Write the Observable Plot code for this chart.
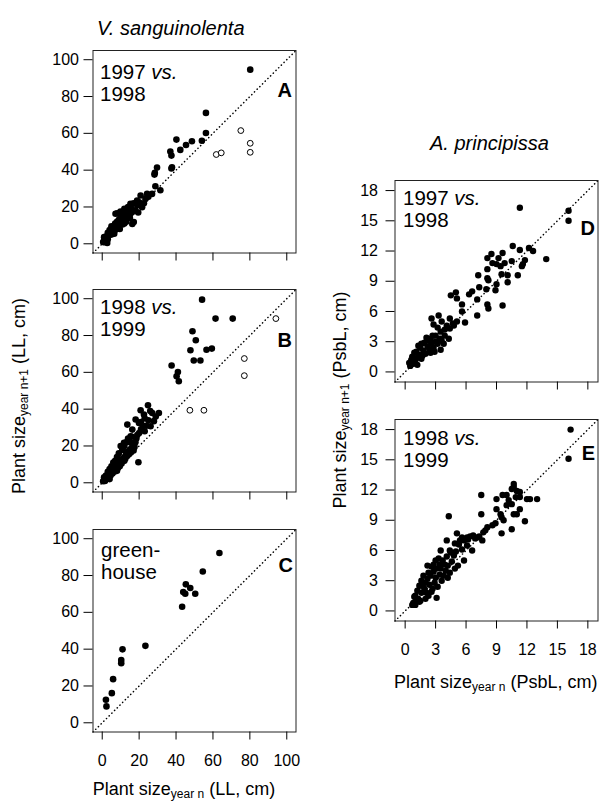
<!DOCTYPE html>
<html><head><meta charset="utf-8">
<script src="https://cdn.jsdelivr.net/npm/d3@7"></script>
<script src="https://cdn.jsdelivr.net/npm/@observablehq/plot@0.6"></script>
<style>
body{margin:0;background:#fff;font-family:"Liberation Sans",Arial,Helvetica,sans-serif;color:#000}
#root{position:relative;width:600px;height:805px;overflow:hidden;background:#fff}
.abs{position:absolute;white-space:nowrap}
.ann{font-size:20.5px;line-height:22px}
.let{font-size:20px;font-weight:bold;line-height:24px;text-align:right;width:40px}
.ttl{font-size:18px;line-height:20px;text-align:center}
.ttl sub{font-size:12px;vertical-align:-3px;line-height:0}
.sp{font-size:20px;font-style:italic;line-height:24px}
</style></head>
<body><div id="root"></div>
<script>
// ---- scales / ticks ----
const llDomain = [-5, 105];
const llTicks = [0, 20, 40, 60, 80, 100];
const psDomain = [-1, 19];
const psTicks = [0, 3, 6, 9, 12, 15, 18];

// ---- V. sanguinolenta, 1997 vs 1998 (A) ----
const aFilled = [[80.2,94.6],[56.2,71.1],[56.2,60.2],[54.0,56.0],[48.6,55.7],[45.4,53.7],[42.3,51.0],[40.2,56.6],[36.9,50.1],[37.5,47.9],[37.8,41.6],[37.5,40.9],[29.7,41.4],[28.5,38.5],[28.3,37.6],[28.8,31.3],[31.5,29.1],[27.0,27.1],[24.3,27.1],[23.4,24.4],[21.6,19.9],[25.0,25.5],[20.8,26.2],[18.9,23.5],[15.3,21.7],[17.0,22.0],[19.0,21.0],[20.0,22.5],[16.0,19.0],[14.0,17.5],[13.0,16.0],[12.0,15.0],[11.0,14.0],[9.9,17.5],[8.1,16.6],[7.2,16.3],[17.1,11.8],[16.3,10.8],[15.0,14.0],[18.0,18.0],[13.0,18.0],[11.0,12.0],[10.0,13.0],[9.0,11.0],[8.0,10.0],[7.0,9.0],[6.0,8.0],[5.0,7.0],[4.5,5.5],[4.0,6.0],[3.0,4.0],[3.5,5.0],[2.5,3.0],[2.0,2.5],[1.5,2.0],[1.0,1.5],[0.5,1.0],[1.0,0.8],[2.0,1.5],[3.0,2.5],[5.0,5.0],[6.0,6.0],[7.0,7.5],[8.0,8.5],[9.0,9.5],[10.0,11.0],[11.0,10.5],[12.0,11.0],[13.0,13.0],[14.0,14.5],[15.0,16.0],[16.0,17.0],[12.0,13.5],[6.0,9.0],[5.0,9.5],[7.0,11.0],[8.0,12.0],[9.0,13.0],[10.0,15.0],[4.0,7.5],[3.0,6.0],[2.0,4.0],[1.5,3.0],[1.0,3.6],[14.0,20.0],[12.0,19.0],[11.0,16.5],[13.0,12.0],[2.7,0.5],[6.5,5.5],[9.5,8.0],[22.6,22.0],[19.5,17.0]];
const aOpen = [[75.1,61.5],[80.2,54.6],[80.2,49.7],[61.8,48.5],[64.5,49.4]];

// ---- V. sanguinolenta, 1998 vs 1999 (B) ----
const bFilled = [[54.1,99.5],[61.4,89.2],[70.7,89.2],[48.9,82.3],[50.7,77.4],[47.8,72.0],[56.5,72.3],[59.4,72.9],[49.6,66.4],[53.2,66.4],[37.6,63.7],[41.0,60.2],[40.3,57.9],[41.5,55.2],
[20.8,39.4],[24.8,42.1],[22.6,37.1],[27.1,37.9],[30.7,37.9],[28.0,33.5],[26.2,30.7],[19.9,32.5],[18.1,34.4],[13.6,31.6],[16.3,28.9],[15.4,25.3],[11.8,21.7],[17.2,21.7],[10.9,18.1],[19.6,11.2],[23.0,35.0],[25.0,34.0],[29.0,36.0],[26.0,39.0],[21.0,33.0],[24.0,31.0],
[0.5,0.8],[1,1.5],[1.5,1],[2,2.5],[2.5,2],[3,3.5],[3.5,3],[4,5],[4.5,4],[5,6],[5.5,5],[6,7.5],[6.5,6],[7,8],[7.5,7],[8,9.5],[8.5,8],[9,10.5],[9.5,9],[10,12],[10.5,10.5],[11,13],[11.5,12],[12,14],[12.5,13],[13,16],[13.5,14.5],[14,17],[14.5,15.5],[15,18],[15.5,16.5],[16,19],[16.5,18],[17,21],[17.5,19.5],[18,22],[18.5,24],[19,26],[8,14],[9,16],[7,12],[6,11],[5,9],[4,7.5],[3,6],[2,4],[1,3],[11,18],[12,20],[13,22],[14,24],[10,20],[20,27],[21,29],[22,31],[23,28],[16,25],[15,22],[4,2],[8,6.5],[12,12],[17,17.5]];
const bOpen = [[94.1,89.2],[77.0,67.5],[77.0,58.2],[47.5,39.4],[55.1,39.4]];

// ---- V. sanguinolenta, greenhouse (C) ----
const cFilled = [[63.5,92.2],[54.5,82.2],[45.3,75.2],[47.7,73.2],[43.9,71.0],[45.0,70.1],[50.4,70.1],[43.3,63.0],[23.4,41.8],[11.0,39.9],[10.3,34.1],[10.3,32.4],[5.9,23.7],[5.2,16.1],[2.0,12.5],[2.3,8.9]];

// ---- A. principissa, 1997 vs 1998 (D) ----
const dFilled = [[11.3,16.3],[16.1,16.0],[16.1,15.0],[10.6,12.5],[11.3,12.1],[12.2,12.3],[12.6,12.0],[13.9,11.2],[11.8,11.1],[11.6,10.7],[11.5,10.5],[11.1,9.6],[10.1,9.6],[10.1,8.9],[9.6,11.8],[9.2,11.3],[9.0,10.7],[9.4,10.5],[9.5,9.7],[8.6,10.8],[8.1,11.3],[8.1,10.2],[7.2,9.6],[8.1,9.3],[8.2,9.1],[9.0,8.7],[8.9,8.1],[7.3,8.4],[8.0,8.2],[6.6,8.0],[6.3,7.7],[7.1,7.2],[8.1,6.7],[8.2,6.3],[9.6,6.6],[7.1,5.6],[5.9,4.9],[4.5,7.6],[5.0,7.9],[5.1,7.3],[5.6,6.7],[5.6,6.0],[4.4,5.3],[5.1,5.0],[4.8,4.6],[3.5,2.2],[8.5,11.7],[10.5,11.0],[9.8,10.8],
[2.6,5.3],[3.3,5.6],[3.6,5.0],[4.1,4.6],[3.9,4.2],[3.5,4.0],[4.4,4.3],[4.7,4.8],[3.9,3.6],[4.3,3.3],[3.2,4.4],[2.8,4.7],[3.0,3.6],[2.5,3.3],
[0.4,0.9],[0.6,1.2],[0.8,0.8],[1.0,1.1],[0.7,1.5],[1.2,1.4],[1.4,1.7],[1.1,2.0],[1.6,1.3],[1.8,2.1],[1.5,2.4],[2.0,1.8],[2.2,2.5],[1.9,2.9],[2.4,2.2],[2.6,2.8],[2.3,3.1],[2.8,2.4],[3.0,3.0],[2.1,3.4],[2.7,3.6],[3.2,2.8],[1.3,2.6],[0.9,1.9],[1.7,1.6],[2.5,1.9],[3.4,3.3],[1.2,0.7],[0.5,0.6],[1.6,2.8],[2.9,2.0],[3.6,3.1],[3.8,2.8]];

// ---- A. principissa, 1998 vs 1999 (E) ----
const eFilled = [[16.3,18.0],[16.1,15.1],[10.7,12.6],[10.7,12.3],[10.9,11.3],[11.0,11.9],[10.5,12.1],[11.3,11.8],[11.3,11.3],[12.0,11.1],[12.3,11.1],[13.0,11.1],[10.0,11.5],[9.6,11.5],[9.0,11.1],[9.0,10.1],[7.5,11.5],[7.5,9.6],[4.3,9.4],[9.4,9.6],[9.5,9.3],[9.7,9.0],[10.5,10.6],[10.7,9.6],[11.0,9.6],[11.3,10.1],[11.8,8.9],[10.5,8.1],[9.5,7.7],[8.9,8.7],[8.6,8.5],[8.1,8.3],[7.9,8.0],[7.7,7.8],[7.6,7.0],[7.1,7.3],[6.7,7.5],[6.4,7.4],[6.1,7.3],[5.6,7.3],[5.4,7.0],[4.9,6.7],[6.6,6.0],[5.8,7.0],[6.1,6.5],[5.1,7.7],[4.1,7.0],[3.5,6.0],[5.8,5.0],[2.3,1.5],[3.1,1.3],[10.2,11.0],[10.0,10.5],[6.9,7.2],[7.3,7.4],[6.2,7.1],[5.3,6.6],[5.6,6.1],
[4.5,5.8],[4.8,5.5],[5.0,5.9],[4.6,4.9],[4.2,4.5],[4.9,4.2],[5.2,4.5],[4.0,4.0],[4.4,3.8],[3.7,5.0],[3.4,4.6],[3.1,4.2],[3.4,3.6],[3.0,3.3],[2.8,3.9],[2.6,4.4],[2.2,4.5],[3.0,5.0],[3.3,5.2],[2.5,3.5],[2.2,3.2],[2.0,2.8],[2.4,2.6],[1.8,3.5],[1.6,3.0],[1.4,2.5],[1.9,2.2],[1.6,1.8],[1.2,2.0],[1.0,1.5],[1.3,1.2],[0.8,0.8],[1.0,0.6],[0.7,0.6],[1.5,1.0],[2.0,1.2],[2.7,2.2],[2.9,2.8],[3.2,2.4],[3.6,3.0],[3.8,3.5],[4.2,3.3],[1.7,2.5],[2.1,1.8],[2.6,1.9],[1.1,1.1],[0.9,1.4],[1.4,0.9],[2.3,3.8],[2.8,4.6],[3.5,4.2],[3.9,4.6],[4.1,5.4],[4.4,6.0]];

const FONT = '"Liberation Sans", Arial, Helvetica, sans-serif';
const root = document.getElementById("root");

function panel({filled, open = [], domain, ticks, left, top, width, height, ml, mr, mt, mb, showX, r, yPad}) {
  const diag = domain.map(v => ({v}));
  const svg = Plot.plot({
    width, height,
    marginLeft: ml, marginRight: mr, marginTop: mt, marginBottom: mb,
    x: {domain, label: null},
    y: {domain, label: null},
    style: {fontFamily: FONT, fontSize: "16px", color: "#000", background: "transparent", overflow: "visible"},
    marks: [
      Plot.line(diag, {x: "v", y: "v", stroke: "#000", strokeWidth: 1.5, strokeDasharray: "0.2 3.6", strokeLinecap: "round"}),
      Plot.dot(filled, {x: d => d[0], y: d => d[1], r, fill: "#000", stroke: "none"}),
      Plot.dot(open, {x: d => d[0], y: d => d[1], r: r - 0.4, fill: "#fff", stroke: "#000", strokeWidth: 1}),
      Plot.frame({stroke: "#222", strokeWidth: 1}),
      Plot.axisX({ticks, tickSize: 8, tickPadding: 15, fontSize: 16, label: null,
                  tickFormat: showX ? (d => String(d)) : (() => "")}),
      Plot.axisY({ticks, tickSize: 9, tickPadding: yPad, fontSize: 16, label: null, tickFormat: d => String(d)})
    ]
  });
  svg.style.position = "absolute";
  svg.style.left = left + "px";
  svg.style.top = top + "px";
  root.appendChild(svg);
}

// left column: frame x 92.5..295.5
const L = {domain: llDomain, ticks: llTicks, left: 40, width: 270, ml: 52.5, mr: 14.5, mt: 10, r: 3.3, yPad: 5};
panel({...L, filled: aFilled, open: aOpen, top: 39.5, height: 232.5, mb: 20, showX: false});
panel({...L, filled: bFilled, open: bOpen, top: 278.5, height: 232.5, mb: 20, showX: false});
panel({...L, filled: cFilled, top: 519, height: 262.5, mb: 50, showX: true});
// right column: frame x 394.5..597.5
const R = {domain: psDomain, ticks: psTicks, left: 340, width: 260, ml: 54.5, mr: 2.5, mt: 10, r: 3.2, yPad: 8};
panel({...R, filled: dFilled, top: 169.5, height: 231.5, mb: 20, showX: false});
panel({...R, filled: eFilled, top: 409, height: 261.5, mb: 50, showX: true});

function html(cls, left, top, inner, extra = "") {
  const d = document.createElement("div");
  d.className = "abs " + cls;
  d.style.left = left + "px";
  d.style.top = top + "px";
  if (extra) d.style.cssText += extra;
  d.innerHTML = inner;
  root.appendChild(d);
  return d;
}

// species titles
html("sp", 97, 16, "V. sanguinolenta");
html("sp", 430, 131, "A. principissa");

// panel annotations
html("ann", 100, 61, "1997 <i>vs.</i><br>1998");
html("ann", 100, 296, "1998 <i>vs.</i><br>1999");
html("ann", 101, 539, "green-<br>house");
html("ann", 403, 187, "1997 <i>vs.</i><br>1998");
html("ann", 403, 427, "1998 <i>vs.</i><br>1999");
html("let", 252, 78, "A");
html("let", 252, 328, "B");
html("let", 253, 553, "C");
html("let", 555, 216, "D");
html("let", 555, 441, "E");

// axis titles
html("ttl", 84, 779, "Plant size<sub>year n</sub> (LL, cm)", "width:200px;");
html("ttl", 394, 672, "Plant size<sub>year n</sub> (PsbL, cm)", "width:200px;");
html("ttl", 19 - 130, 396 - 10, "Plant size<sub>year n+1</sub> (LL, cm)", "width:260px;transform:rotate(-90deg);transform-origin:50% 50%;");
html("ttl", 340 - 130, 400 - 10, "Plant size<sub>year n+1</sub> (PsbL, cm)", "width:260px;transform:rotate(-90deg);transform-origin:50% 50%;");
</script>
</body></html>
